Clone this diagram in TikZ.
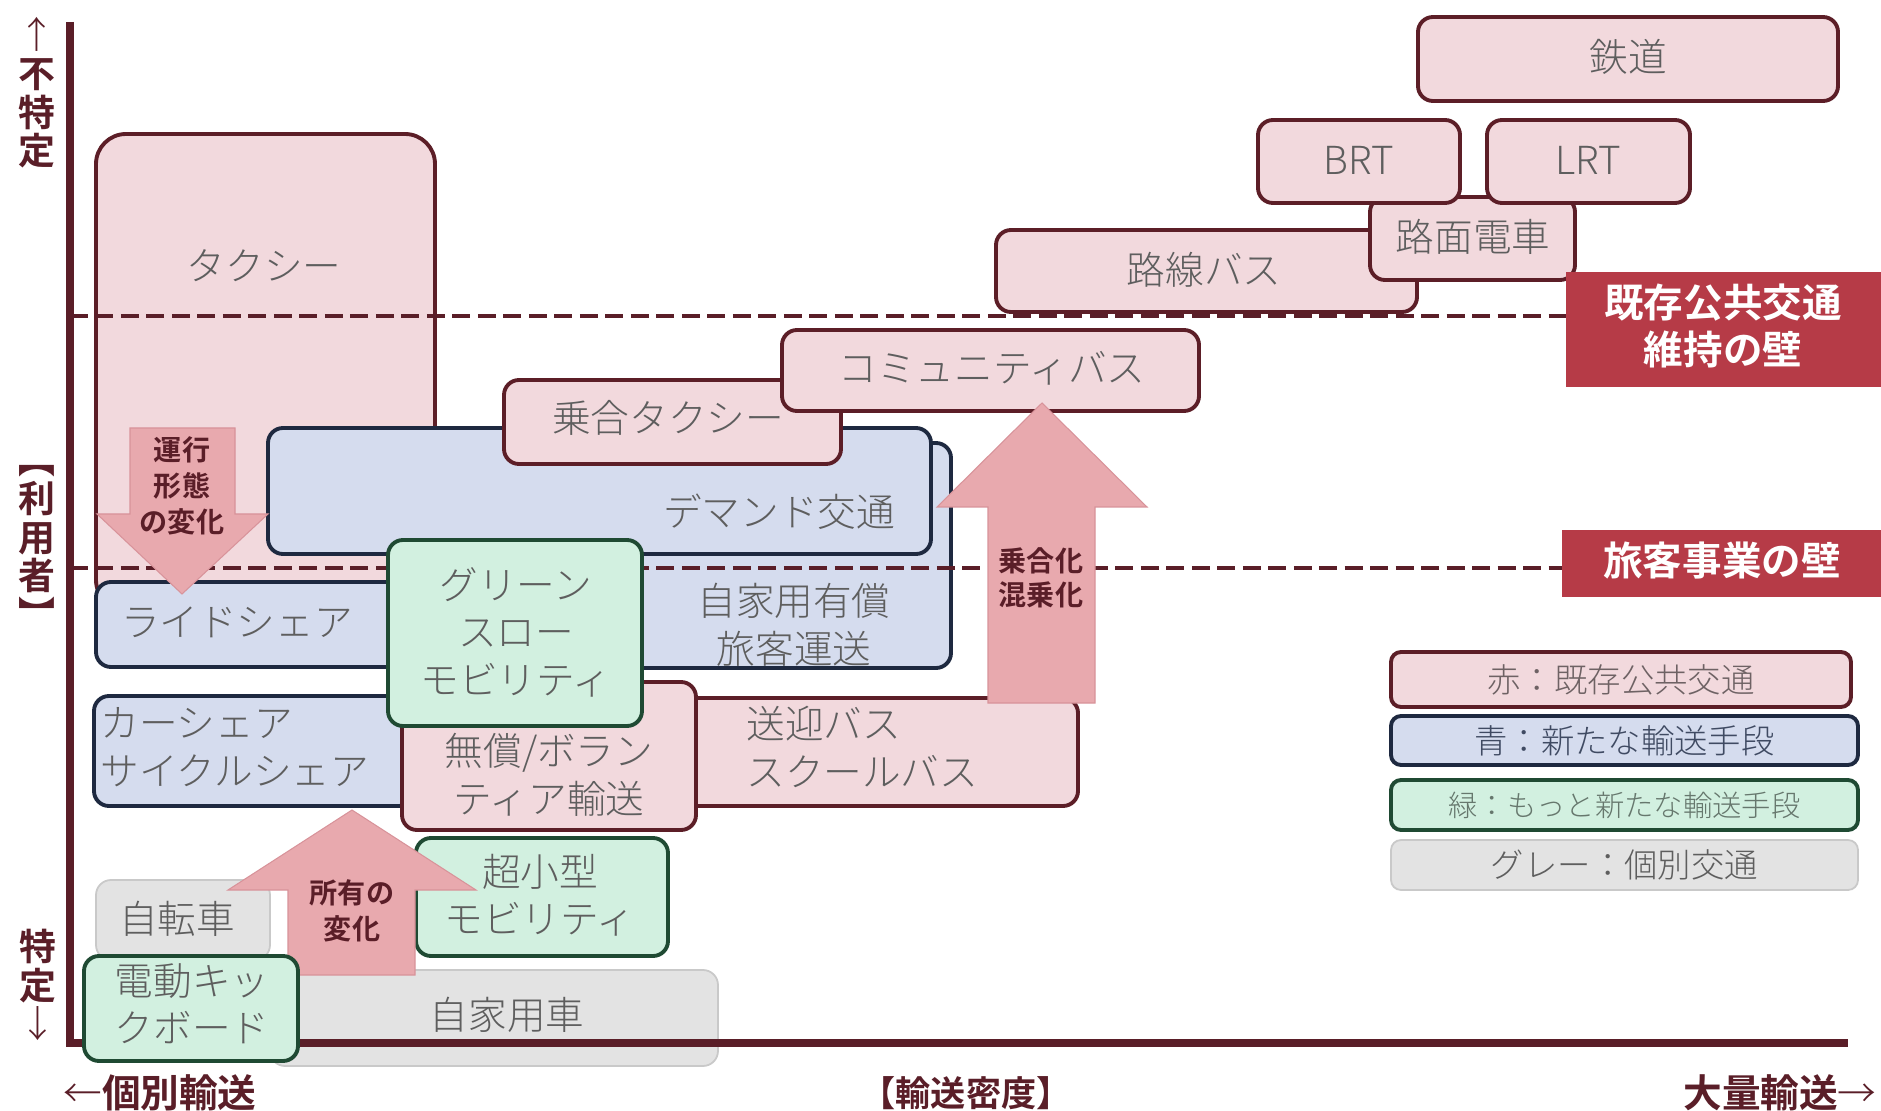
\documentclass[tikz,border=0pt]{standalone}
\usepackage{fontspec}
\setmainfont{Noto Sans CJK JP}[UprightFont=* Light, BoldFont=* Bold]
\usetikzlibrary{fit}
\definecolor{pinkF}{HTML}{F2D9DD}
\definecolor{pinkD}{HTML}{5C1E27}
\definecolor{blueF}{HTML}{D5DCEE}
\definecolor{blueD}{HTML}{1E2940}
\definecolor{greenF}{HTML}{D2F0E0}
\definecolor{greenD}{HTML}{1F4A33}
\definecolor{grayF}{HTML}{E3E3E3}
\definecolor{grayD}{HTML}{C9C9C9}
\definecolor{txt}{HTML}{5E5E5E}
\definecolor{axisC}{HTML}{5A1E28}
\definecolor{arrF}{HTML}{E8A9AE}
\definecolor{arrD}{HTML}{D8939A}
\definecolor{wallF}{HTML}{B63B47}
\definecolor{lgRT}{HTML}{6E6264}
\definecolor{lgBT}{HTML}{3F4A62}
\definecolor{lgGT}{HTML}{66776D}
\begin{document}
\begin{tikzpicture}[x=0.02cm, y=-0.02cm,
  box/.style={inner sep=0pt, outer sep=0pt, line width=2.2pt, rounded corners=0.3cm},
  pinkbox/.style={box, fill=pinkF, draw=pinkD},
  bluebox/.style={box, fill=blueF, draw=blueD},
  greenbox/.style={box, fill=greenF, draw=greenD},
  graybox/.style={box, fill=grayF, draw=grayD, line width=1pt},
  tx/.style={text=txt, font=\fontsize{22pt}{27pt}\selectfont, align=center, inner sep=0pt},
  lgtx/.style={font=\fontsize{19pt}{22pt}\selectfont, inner sep=0pt},
  arrtx/.style={text=axisC, font=\bfseries\fontsize{16pt}{20.4pt}\selectfont, align=center, inner sep=0pt},
  axlbl/.style={text=axisC, font=\bfseries\fontsize{21pt}{22pt}\selectfont, align=center, inner sep=0pt},
  blockarrow/.style={fill=arrF, draw=arrD, line width=0.6pt},
  wallbox/.style={fill=wallF, inner sep=0pt, outer sep=0pt},
  walltx/.style={text=white, font=\bfseries\fontsize{22.5pt}{27pt}\selectfont, align=center, inner sep=0pt},
  wallline/.style={draw=axisC, line width=2.8pt, dash pattern=on 0.36cm off 0.15cm},
  axisline/.style={draw=axisC, line width=4.5pt}
]
\useasboundingbox (0,0) rectangle (1881,1111);
\fill[white] (0,0) rectangle (1881,1111);

% taxi
\node[pinkbox, rounded corners=0.6cm, fit={(96,134)(435,610)}] (taxi) {};
\node[tx] (taxiT) at (264,266) {タクシー};

% blue middle boxes
\node[bluebox, fit={(500,443)(951,668)}] (jika) {};
\node[bluebox, fit={(268,428)(931,554)}] (demand) {};
\node[tx] (demandT) at (779,512) {デマンド交通};
\node[tx] (jikaT) at (794,625) {自家用有償\\旅客運送};

% pink upper boxes
\node[pinkbox, fit={(504,380)(841,464)}] (noriai) {};
\node[tx] (noriaiT) at (668,418) {乗合タクシー};
\node[pinkbox, fit={(782,330)(1199,411)}] (comm) {};
\node[tx] (commT) at (992,368) {コミュニティバス};
\node[pinkbox, fit={(996,230)(1417,312)}] (rosen) {};
\node[tx] (rosenT) at (1204,270) {路線バス};
\node[pinkbox, fit={(1370,197)(1575,280)}] (romen) {};
\node[tx] (romenT) at (1473,237) {路面電車};
\node[pinkbox, fit={(1258,120)(1460,203)}] (brt) {};
\node[tx] (brtT) at (1359,160) {BRT};
\node[pinkbox, fit={(1487,120)(1690,203)}] (lrt) {};
\node[tx] (lrtT) at (1588,160) {LRT};
\node[pinkbox, fit={(1418,17)(1838,101)}] (tetsu) {};
\node[tx] (tetsuT) at (1628,57) {鉄道};

% ride share, car share
\node[bluebox, fit={(96,582)(480,667)}] (ride) {};
\node[tx] (rideT) at (237,622) {ライドシェア};
\node[bluebox, fit={(94,696)(414,806)}] (car) {};
\node[tx, anchor=west, align=left] (carT) at (100,747) {カーシェア\\サイクルシェア};

% pink lower boxes
\node[pinkbox, fit={(672,698)(1078,806)}] (sougei) {};
\node[tx, anchor=west, align=left] (sougeiT) at (746,747) {送迎バス\\スクールバス};
\node[pinkbox, fit={(402,682)(696,830)}] (musho) {};
\node[tx] (mushoT) at (549,775) {無償/ボラン\\ティア輸送};

% gray boxes
\node[graybox, fit={(96,880)(270,960)}] (bike) {};
\node[tx] (bikeT) at (177,919) {自転車};
\node[graybox, fit={(270,970)(718,1066)}] (pcar) {};
\node[tx] (pcarT) at (507,1015) {自家用車};

% axes
\coordinate (ytop) at (70,22);
\coordinate (origin) at (70,1043);
\coordinate (xend) at (1848,1043);
\draw[axisline] (ytop) -- (origin) -- (xend);

% walls (dashed)
\node[wallbox, fit={(1566,272)(1881,387)}] (wallA) {};
\node[walltx] (wallAT) at (1723,326) {既存公共交通\\維持の壁};
\node[wallbox, fit={(1562,530)(1881,597)}] (wallB) {};
\node[walltx] (wallBT) at (1722,561) {旅客事業の壁};
\coordinate (dAs) at (70,316);
\coordinate (dBs) at (70,568);
\draw[wallline] (dAs) -- (dAs -| wallA.west);
\draw[wallline] (dBs) -- (dBs -| wallB.west);

% green boxes
\node[greenbox, fit={(388,540)(642,726)}] (gsm) {};
\node[tx] (gsmT) at (516,632) {グリーン\\スロー\\モビリティ};
\node[greenbox, fit={(416,838)(668,956)}] (micro) {};
\node[tx] (microT) at (540,895) {超小型\\モビリティ};

% block arrows
\draw[blockarrow] (130,428) -- (235,428) -- (235,514) -- (268,514) -- (182,594) -- (97,514) -- (130,514) -- cycle;
\node[arrtx] (unkou) at (182,486) {運行\\形態\\の変化};
\draw[blockarrow] (288,975) -- (288,890) -- (228,890) -- (352,810) -- (476,890) -- (415,890) -- (415,975) -- cycle;
\node[arrtx] (shoyu) at (352,911) {所有の\\変化};
\draw[blockarrow] (988,703) -- (988,507) -- (937,507) -- (1042,403) -- (1147,507) -- (1095,507) -- (1095,703) -- cycle;
\node[arrtx, font=\bfseries\fontsize{16pt}{19.3pt}\selectfont] (noriaika) at (1041,578) {乗合化\\混乗化};

% kickboard
\node[greenbox, fit={(84,956)(298,1061)}] (kick) {};
\node[tx] (kickT) at (192,1004) {電動キッ\\クボード};

% legend
\node[pinkbox, rounded corners=0.2cm, fit={(1391,652)(1851,707)}] (lgR) {};
\node[lgtx, text=lgRT] (lgRT) at (lgR.center) {赤：既存公共交通};
\node[bluebox, rounded corners=0.2cm, fit={(1391,716)(1858,765)}] (lgB) {};
\node[lgtx, text=lgBT] (lgBT) at (lgB.center) {青：新たな輸送手段};
\node[greenbox, rounded corners=0.2cm, fit={(1391,780)(1858,830)}] (lgG) {};
\node[lgtx, text=lgGT, font=\fontsize{16.7pt}{20pt}\selectfont] (lgGT) at (lgG.center) {緑：もっと新たな輸送手段};
\node[graybox, rounded corners=0.2cm, fit={(1391,840)(1858,890)}] (lgY) {};
\node[lgtx, text=txt] (lgYT) at (lgY.center) {グレー：個別交通};

% axis labels
\node[axlbl] (yhigh) at (37,93) {{\mdseries ↑}\\不\\特\\定};
\node[axlbl] (ymid) at (37,547) {︻\\利\\用\\者\\︼};
\node[axlbl] (ylow) at (38,985) {特\\定\\{\mdseries ↓}};
\node[axlbl, font=\bfseries\fontsize{22pt}{22pt}\selectfont] (xlow) at (160,1093) {{\mdseries ←}個別輸送};
\node[axlbl, font=\bfseries\fontsize{20pt}{22pt}\selectfont] (xmid) at (966,1093) {【輸送密度】};
\node[axlbl, font=\bfseries\fontsize{22pt}{22pt}\selectfont] (xhigh) at (1780,1093) {大量輸送{\mdseries →}};
\end{tikzpicture}
\end{document}
